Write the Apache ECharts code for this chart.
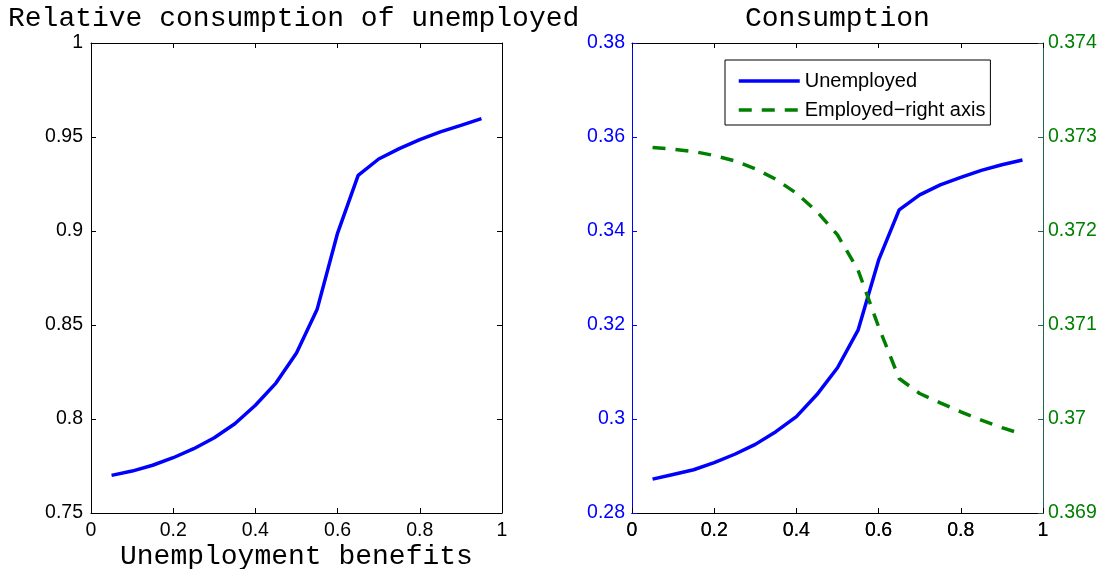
<!DOCTYPE html>
<html>
<head>
<meta charset="utf-8">
<script src="https://cdn.jsdelivr.net/npm/echarts@6/dist/echarts.min.js"></script>
<style>
  html, body { margin: 0; padding: 0; background: #fff; }
  #chart { width: 1103px; height: 569px; }
</style>
</head>
<body>
<div id="chart"></div>
<script>
// Unemployment benefit levels (x for both panels)
const benefits = [0.05, 0.10, 0.15, 0.20, 0.25, 0.30, 0.35, 0.40, 0.45, 0.50,
                  0.55, 0.60, 0.65, 0.70, 0.75, 0.80, 0.85, 0.90, 0.95];

// Left panel: consumption of unemployed relative to employed
const relativeConsumption = [0.7700, 0.7723, 0.7754, 0.7794, 0.7842, 0.7900, 0.7975,
                             0.8073, 0.8191, 0.8351, 0.8582, 0.8989, 0.9296, 0.9383,
                             0.9438, 0.9486, 0.9527, 0.9562, 0.9598];

// Right panel: consumption levels
const unemployedConsumption = [0.2872, 0.2882, 0.2892, 0.2907, 0.2925, 0.2946, 0.2973,
                               0.3005, 0.3052, 0.3109, 0.3189, 0.3338, 0.3445, 0.3477,
                               0.3498, 0.3514, 0.3529, 0.3541, 0.3551];
const employedConsumption = [0.372888, 0.372870, 0.372846, 0.372803, 0.372746, 0.372661,
                             0.372550, 0.372402, 0.372207, 0.371958, 0.371585, 0.370981,
                             0.370431, 0.370271, 0.370172, 0.370076, 0.369987, 0.369909,
                             0.369838];

const leftTitle = 'Relative consumption of unemployed';
const rightTitle = 'Consumption';
const xName = 'Unemployment benefits';
const seriesNames = ['Unemployed', 'Employed\u2212right axis'];

const BLUE = '#0000ff';
const GREEN = '#008000';
const RIGHT_AXIS = '#1e6450';
const SANS = 'Liberation Sans, Arial, sans-serif';
const MONO = 'Liberation Mono, Courier New, monospace';
const TICK_FONT = 19.5;
const LINE_W = 3.5;
const DASH = [13, 10];

const pairs = (xs, ys) => xs.map((x, i) => [x, ys[i]]);

function xAx(grid, opts) {
  return Object.assign({
    type: 'value', gridIndex: grid, min: 0, max: 1, interval: 0.2,
    position: 'bottom',
    axisLine: { onZero: false, lineStyle: { color: '#000', width: 1 } },
    axisTick: { inside: true, length: 5, lineStyle: { color: '#000' } },
    axisLabel: { color: '#000', fontFamily: SANS, fontSize: TICK_FONT, margin: 8 },
    splitLine: { show: false }
  }, opts);
}

function yAx(grid, opts) {
  return Object.assign({
    type: 'value', gridIndex: grid,
    position: 'left',
    axisLine: { show: true, onZero: false, lineStyle: { color: '#000', width: 1 } },
    axisTick: { show: true, inside: true, length: 5, lineStyle: { color: '#000' } },
    axisLabel: { color: '#000', fontFamily: SANS, fontSize: TICK_FONT, margin: 8 },
    splitLine: { show: false }
  }, opts);
}

const titleText = { fontFamily: MONO, fontSize: 28, fontWeight: 'normal', color: '#000' };

const option = {
  animation: false,
  backgroundColor: '#fff',
  title: [
    { text: leftTitle, left: 3, top: 0, textStyle: titleText },
    { text: rightTitle, left: 740, top: 0, textStyle: titleText },
    { text: xName, left: 115, top: 538, textStyle: titleText }
  ],
  legend: {
    data: [
      { name: seriesNames[0], lineStyle: { width: LINE_W, color: BLUE, type: 'solid' } },
      { name: seriesNames[1], lineStyle: { width: LINE_W, color: GREEN, type: DASH, cap: 'butt' } }
    ],
    orient: 'vertical',
    left: 725, top: 60,
    padding: [11, 5, 5, 12],
    itemWidth: 61, itemHeight: 18, itemGap: 9,
    itemStyle: { opacity: 0 },
    borderColor: '#000', borderWidth: 1, backgroundColor: '#fff',
    textStyle: { fontFamily: SANS, fontSize: 20, color: '#000' }
  },
  grid: [
    { left: 91, top: 43, width: 411, height: 470 },
    { left: 632, top: 43, width: 411, height: 470 }
  ],
  xAxis: [
    xAx(0, {}),
    xAx(0, { position: 'top', axisLabel: { show: false } }),
    xAx(1, {}),
    xAx(1, {}),
    xAx(1, { position: 'top', axisLabel: { show: false } })
  ],
  yAxis: [
    yAx(0, { min: 0.75, max: 1, interval: 0.05 }),
    yAx(0, { min: 0.75, max: 1, interval: 0.05, position: 'right', axisLabel: { show: false } }),
    yAx(1, { min: 0.28, max: 0.38, interval: 0.02,
      axisLine: { show: true, onZero: false, lineStyle: { color: BLUE, width: 1 } },
      axisTick: { show: true, inside: true, length: 5, lineStyle: { color: BLUE } },
      axisLabel: { color: BLUE, fontFamily: SANS, fontSize: TICK_FONT, margin: 7 } }),
    yAx(1, { min: 0.369, max: 0.374, interval: 0.001, position: 'right',
      axisLine: { show: true, onZero: false, lineStyle: { color: RIGHT_AXIS, width: 1 } },
      axisTick: { show: true, inside: true, length: 5, lineStyle: { color: RIGHT_AXIS } },
      axisLabel: { color: GREEN, fontFamily: SANS, fontSize: TICK_FONT, margin: 5 } })
  ],
  series: [
    {
      name: 'relative', type: 'line', xAxisIndex: 0, yAxisIndex: 0,
      data: pairs(benefits, relativeConsumption),
      symbol: 'none', lineStyle: { color: BLUE, width: LINE_W }, itemStyle: { color: BLUE }
    },
    {
      name: seriesNames[0], type: 'line', xAxisIndex: 2, yAxisIndex: 2,
      data: pairs(benefits, unemployedConsumption),
      symbol: 'none', lineStyle: { color: BLUE, width: LINE_W }, itemStyle: { color: BLUE }
    },
    {
      name: seriesNames[1], type: 'line', xAxisIndex: 2, yAxisIndex: 3,
      data: pairs(benefits, employedConsumption),
      symbol: 'none',
      lineStyle: { color: GREEN, width: LINE_W, type: DASH, cap: 'butt' },
      itemStyle: { color: GREEN }
    }
  ]
};

const chart = echarts.init(document.getElementById('chart'), null, { renderer: 'canvas' });
chart.setOption(option);
</script>
</body>
</html>
